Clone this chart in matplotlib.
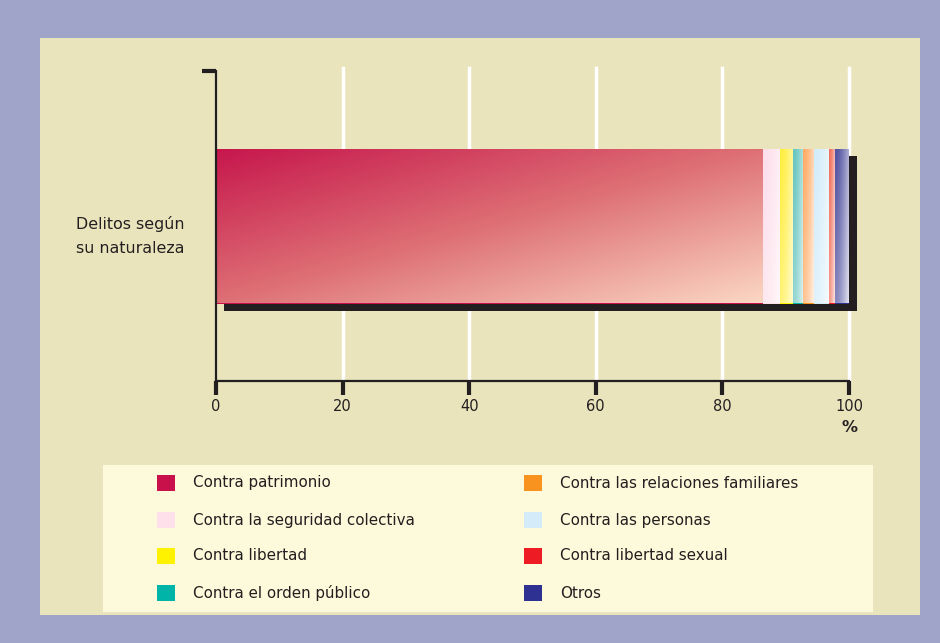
import numpy as np
import matplotlib
matplotlib.use("Agg")
import matplotlib.pyplot as plt
from matplotlib.patches import Rectangle

plt.rcParams['font.family'] = ['DejaVu Sans']

# ---- data ----
categories = ["Contra patrimonio", "Contra la seguridad colectiva", "Contra libertad",
              "Contra el orden público", "Contra las relaciones familiares",
              "Contra las personas", "Contra libertad sexual", "Otros"]
values = [86.4, 2.7, 2.1, 1.6, 1.7, 2.4, 0.9, 2.2]
bar_label = "Delitos según\nsu naturaleza"
xticks = [0, 20, 40, 60, 80, 100]

legend_colors = ["#c8104a", "#fde0ea", "#fff200", "#00b4a8",
                 "#f7931e", "#d4ecf9", "#ed1c24", "#2e3192"]
grad_start = [(198, 22, 76), (253, 222, 234), (255, 238, 60), (100, 196, 190),
              (255, 170, 100), (210, 236, 250), (240, 110, 90), (80, 80, 160)]

BG_OUT = "#a0a4c9"
BG_PANEL = "#e9e4bc"
BG_LEG = "#fdfadb"
INK = "#231f20"

fig = plt.figure(figsize=(9.4, 6.43), dpi=100)
fig.patch.set_facecolor(BG_OUT)

W, H = 940, 643
def fx(px): return px / W
def fy(py): return 1 - py / H

# panel
fig.patches.append(Rectangle((fx(40), fy(615)), fx(920) - fx(40), fy(38) - fy(615),
                             transform=fig.transFigure, facecolor=BG_PANEL,
                             edgecolor='none', zorder=-3))
# legend box
fig.patches.append(Rectangle((fx(103), fy(612)), fx(873) - fx(103), fy(465) - fy(612),
                             transform=fig.transFigure, facecolor=BG_LEG,
                             edgecolor='none', zorder=-2))

ax = fig.add_axes([fx(216), fy(381), fx(849) - fx(216), fy(71) - fy(381)])
ax.set_facecolor('none')
ax.set_zorder(2)

total = sum(values)
lefts = np.concatenate([[0], np.cumsum(values)[:-1]])
ycen, hgt = 0.5, 0.5

# grid lines
for t in xticks[1:]:
    ax.axvline(t, color='white', lw=2.5, zorder=1, ymin=0, ymax=1.01, clip_on=False)

# shadow
sh = ax.barh([ycen - 0.024], [total], left=[1.3], height=hgt, color=INK, zorder=2)
for p in sh.patches:
    p.set_clip_on(False)

bars = ax.barh([ycen] * len(values), values, left=lefts, height=hgt,
               color=legend_colors, zorder=3, linewidth=0)

n = 200
for i, p in enumerate(bars.patches):
    x0, w = p.get_x(), p.get_width()
    y0, h = p.get_y(), p.get_height()
    xx = np.linspace(0, 1, n)[None, :]
    yy = np.linspace(0, 1, n)[:, None]  # 0 at top row
    c0 = np.array(grad_start[i], dtype=float) / 255
    if i == 0:
        t = 0.5 * xx + 0.5 * yy
        stops = np.array([[198, 22, 76], [222, 112, 117], [251, 215, 195]]) / 255
        img = np.zeros((n, n, 3))
        for k in range(3):
            img[..., k] = np.interp(t, [0, 0.5, 1], stops[:, k])
    else:
        t = np.clip(0.55 * xx ** 1.5 + 0.3 * yy, 0, 1)
        img = c0[None, None, :] * (1 - t[..., None]) + np.ones(3)[None, None, :] * t[..., None]
    im = ax.imshow(img, extent=[x0, x0 + w, y0, y0 + h], origin='upper',
                   aspect='auto', zorder=4, interpolation='bilinear')
    im.set_clip_path(p)

ax.set_xlim(0, 100)
ax.set_ylim(0, 1)

for s in ['top', 'right']:
    ax.spines[s].set_visible(False)
for s in ['left', 'bottom']:
    ax.spines[s].set_color(INK)
    ax.spines[s].set_linewidth(1.6)
    ax.spines[s].set_zorder(5)

ax.set_xticks(xticks)
ax.set_xticklabels([str(t) for t in xticks], fontsize=10.5, color=INK)
ax.tick_params(axis='x', direction='out', length=10, width=3, color=INK, pad=3)
ax.set_yticks([1.0])
ax.set_yticklabels([''])
ax.tick_params(axis='y', direction='out', length=10, width=3, color=INK)

ax.text(100, -0.125, "%", ha='center', va='top', fontsize=11.5, fontweight='bold',
        color=INK, transform=ax.transData)

fig.text(fx(76), fy(236), bar_label, ha='left', va='center', fontsize=11.4,
         color=INK, linespacing=1.7)

# legend
rows_y = [483, 520, 556, 593]
for i, (lab, col) in enumerate(zip(categories, legend_colors)):
    colx = 157 if i < 4 else 524
    ry = rows_y[i % 4]
    fig.patches.append(Rectangle((fx(colx), fy(ry + 8)), fx(18), fy(0) - fy(16),
                                 transform=fig.transFigure, facecolor=col,
                                 edgecolor='none', zorder=1))
    fig.text(fx(colx + 36), fy(ry), lab, ha='left', va='center', fontsize=10.9,
             color=INK)

fig.savefig("out.png", dpi=100, facecolor=fig.get_facecolor())
